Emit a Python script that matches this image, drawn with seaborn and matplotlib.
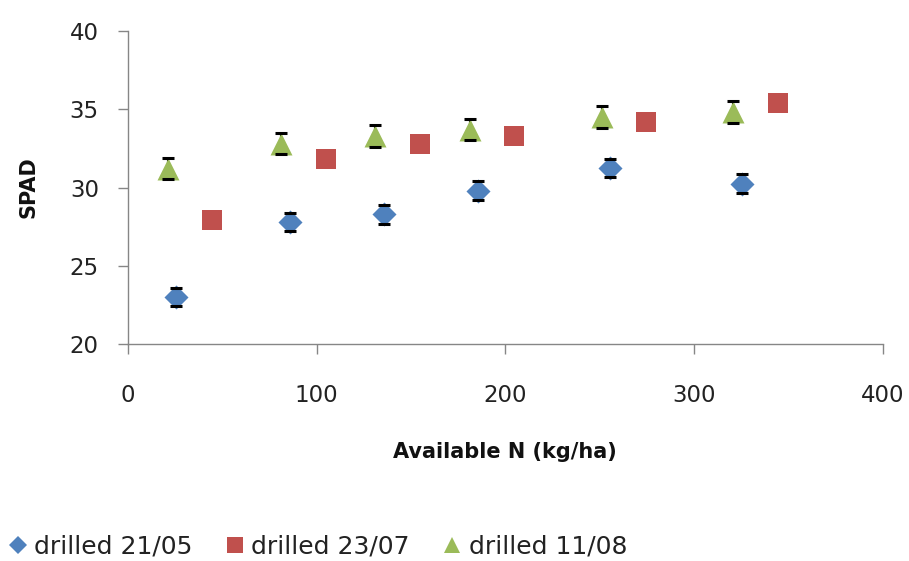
import matplotlib
matplotlib.use("Agg")
import matplotlib.pyplot as plt
from matplotlib.lines import Line2D
import seaborn as sns
import pandas as pd

# SPAD readings against available nitrogen, three drilling dates
x_2105 = [25.5, 85.7, 135.6, 185.5, 255.3, 325.5]
y_2105 = [23.0, 27.8, 28.3, 29.8, 31.25, 30.25]
e_2105 = [0.6, 0.6, 0.6, 0.6, 0.6, 0.6]

x_2307 = [44.5, 104.9, 154.5, 204.4, 274.6, 344.2]
y_2307 = [27.9, 31.8, 32.75, 33.3, 34.2, 35.4]

x_1108 = [21.0, 81.0, 131.0, 181.0, 251.0, 320.5]
y_1108 = [31.2, 32.8, 33.3, 33.7, 34.5, 34.8]
e_1108 = [0.67, 0.67, 0.7, 0.67, 0.72, 0.7]

labels = ["drilled 21/05", "drilled 23/07", "drilled 11/08"]
colors = ["#4F81BD", "#C0504D", "#9BBB59"]
markers = ["D", "s", "^"]

x_ticks = [0, 100, 200, 300, 400]
y_ticks = [20, 25, 30, 35, 40]

sns.set_style("white")
plt.rcParams["font.family"] = ["DejaVu Sans"]

fig = plt.figure(figsize=(9.09, 5.61), dpi=100)
ax = fig.add_axes([0.1408, 0.3868, 0.8306, 0.5579])

df = pd.concat([
    pd.DataFrame({"N": x_2105, "SPAD": y_2105, "series": labels[0]}),
    pd.DataFrame({"N": x_2307, "SPAD": y_2307, "series": labels[1]}),
    pd.DataFrame({"N": x_1108, "SPAD": y_1108, "series": labels[2]}),
], ignore_index=True)

sizes = {labels[0]: 150, labels[1]: 205, labels[2]: 250}
for lab, col, mk in zip(labels, colors, markers):
    sns.scatterplot(data=df[df["series"] == lab], x="N", y="SPAD", ax=ax,
                    color=col, marker=mk, s=sizes[lab], linewidth=0,
                    zorder=3, legend=False)

# error bars: stems beneath the markers, caps on top
for xs, ys, es in [(x_2105, y_2105, e_2105), (x_1108, y_1108, e_1108)]:
    _, caps, bars = ax.errorbar(xs, ys, yerr=es, fmt="none", ecolor="black",
                                elinewidth=1.5, capsize=4.4, capthick=2.2)
    for c in caps:
        c.set_zorder(4)
    for b in bars:
        b.set_zorder(2)

ax.set_xlim(0, 400)
ax.set_ylim(20, 40)
ax.set_xticks(x_ticks)
ax.set_yticks(y_ticks)

spine_col = "#868686"
for side in ["top", "right"]:
    ax.spines[side].set_visible(False)
for side in ["left", "bottom"]:
    ax.spines[side].set_color(spine_col)
    ax.spines[side].set_linewidth(1.0)

ax.tick_params(axis="y", direction="out", length=7, width=1.0, color=spine_col,
               labelsize=16.5, pad=14, labelcolor="#222222", left=True)
ax.tick_params(axis="x", direction="out", length=7, width=1.0, color=spine_col,
               labelsize=16.5, pad=22, labelcolor="#222222", bottom=True)

ax.set_xlabel("Available N (kg/ha)", fontsize=15, fontweight="bold", color="#111111")
ax.set_ylabel("SPAD", fontsize=15, fontweight="bold", color="#111111")
ax.xaxis.set_label_coords(0.4993, -0.345)
ax.xaxis.label.set_va("center")
ax.yaxis.set_label_coords(-0.132, 0.5016)
ax.yaxis.label.set_va("center")

handles = [
    Line2D([], [], linestyle="none", marker="D", markersize=9, color=colors[0], markeredgewidth=0),
    Line2D([], [], linestyle="none", marker="s", markersize=12, color=colors[1], markeredgewidth=0),
    Line2D([], [], linestyle="none", marker="^", markersize=12, color=colors[2], markeredgewidth=0),
]
fig.legend(handles, labels, loc="center left", bbox_to_anchor=(-0.009, 0.025),
           ncol=3, frameon=False, fontsize=18, handlelength=0.9,
           handletextpad=0.2, columnspacing=1.25, borderaxespad=0.2,
           labelcolor="#222222")

fig.savefig("out.png", dpi=100)
